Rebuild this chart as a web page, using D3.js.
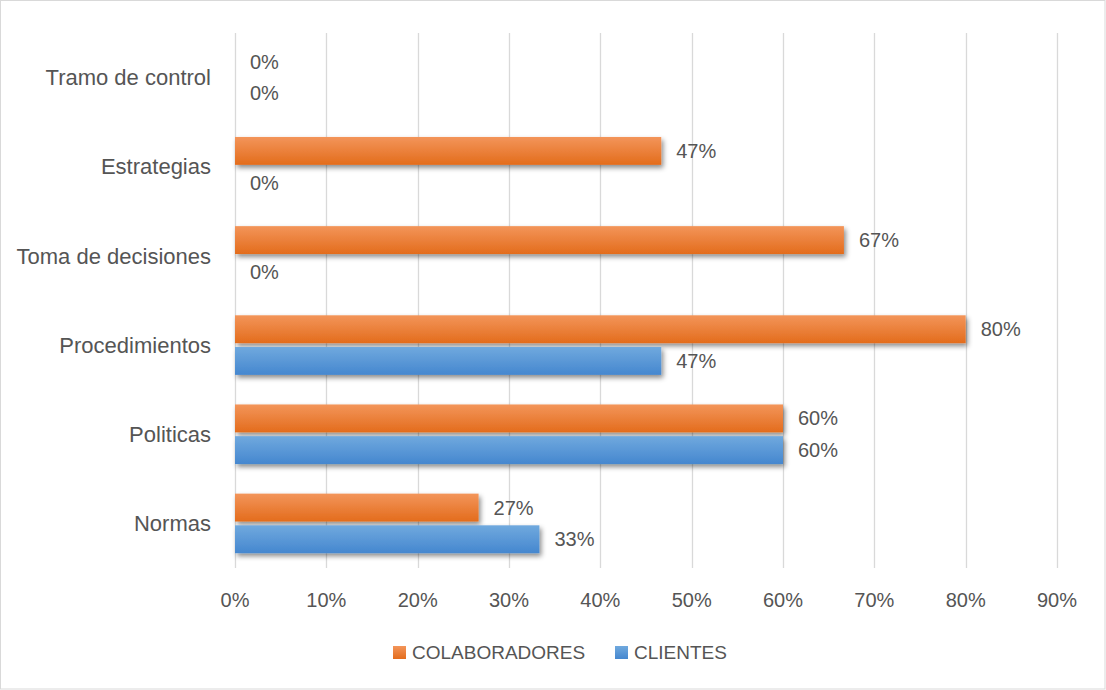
<!DOCTYPE html>
<html>
<head>
<meta charset="utf-8">
<script src="https://cdn.jsdelivr.net/npm/d3@7"></script>
<style>
  body { margin: 0; background: #fff; }
  text { font-family: "Liberation Sans", Arial, sans-serif; fill: #555; }
</style>
</head>
<body>
<div id="chart"></div>
<script>
// data, categories top to bottom
const categories = ['Tramo de control', 'Estrategias', 'Toma de decisiones', 'Procedimientos', 'Politicas', 'Normas'];
const series = ['COLABORADORES', 'CLIENTES'];
const colaboradores = [0, 0.4667, 0.6667, 0.80, 0.60, 0.2667];
const clientes = [0, 0, 0, 0.4667, 0.60, 0.3333];
const xTicks = [0, 0.1, 0.2, 0.3, 0.4, 0.5, 0.6, 0.7, 0.8, 0.9];

const width = 1106;
const height = 690;
const margin = { top: 33, right: 49, bottom: 122, left: 235 };

const svg = d3.select('#chart')
  .append('svg')
  .attr('width', width)
  .attr('height', height);

const defs = svg.append('defs');
const grads = [
  { id: 'g-orange', top: '#f3955a', bottom: '#e36c1c' },
  { id: 'g-blue', top: '#70a9de', bottom: '#4587cf' }
];
grads.forEach(g => {
  const lg = defs.append('linearGradient')
    .attr('id', g.id)
    .attr('x1', 0).attr('y1', 0).attr('x2', 0).attr('y2', 1);
  lg.append('stop').attr('offset', '0%').attr('stop-color', g.top);
  lg.append('stop').attr('offset', '100%').attr('stop-color', g.bottom);
});
defs.append('filter')
  .attr('id', 'shadow')
  .attr('x', '-5%').attr('y', '-30%').attr('width', '115%').attr('height', '180%')
  .append('feDropShadow')
  .attr('dx', 2).attr('dy', 3).attr('stdDeviation', 2.5)
  .attr('flood-color', '#000').attr('flood-opacity', 0.45);

const fills = { COLABORADORES: 'url(#g-orange)', CLIENTES: 'url(#g-blue)' };

// outer border
svg.append('rect')
  .attr('x', 0.5).attr('y', 0.5)
  .attr('width', width - 1.5).attr('height', height - 1.5)
  .attr('fill', 'none')
  .attr('stroke', '#d9d9d9');

const x = d3.scaleLinear()
  .domain([0, 0.9])
  .range([margin.left, width - margin.right]);

const y0 = d3.scaleBand()
  .domain(categories)
  .range([margin.top, height - margin.bottom])
  .padding(0);

const y1 = d3.scaleBand()
  .domain(series)
  .range([0, y0.bandwidth()])
  .paddingInner(0.12)
  .paddingOuter(0.467);

// gridlines
svg.append('g')
  .selectAll('line')
  .data(xTicks)
  .enter()
  .append('line')
  .attr('x1', d => Math.round(x(d)) + 0.5)
  .attr('x2', d => Math.round(x(d)) + 0.5)
  .attr('y1', margin.top)
  .attr('y2', height - margin.bottom)
  .attr('stroke', '#d9d9d9')
  .attr('stroke-width', 1.3);

// x tick labels
svg.append('g')
  .selectAll('text')
  .data(xTicks)
  .enter()
  .append('text')
  .attr('x', d => x(d))
  .attr('y', 600)
  .attr('dy', '0.35em')
  .attr('text-anchor', 'middle')
  .style('font-size', '20px')
  .text(d3.format('.0%'));

// category labels
svg.append('g')
  .selectAll('text')
  .data(categories)
  .enter()
  .append('text')
  .attr('x', 211)
  .attr('y', d => y0(d) + y0.bandwidth() / 2)
  .attr('dy', '0.35em')
  .attr('text-anchor', 'end')
  .style('font-size', '22px')
  .text(d => d);

const rows = [];
categories.forEach((c, i) => {
  rows.push({ cat: c, s: 'COLABORADORES', v: colaboradores[i] });
  rows.push({ cat: c, s: 'CLIENTES', v: clientes[i] });
});

// bars
svg.append('g')
  .selectAll('rect')
  .data(rows.filter(d => d.v > 0))
  .enter()
  .append('rect')
  .attr('x', x(0))
  .attr('y', d => y0(d.cat) + y1(d.s))
  .attr('width', d => x(d.v) - x(0))
  .attr('height', y1.bandwidth())
  .attr('fill', d => fills[d.s])
  .attr('filter', 'url(#shadow)');

// value labels
svg.append('g')
  .selectAll('text')
  .data(rows)
  .enter()
  .append('text')
  .attr('x', d => x(d.v) + 15)
  .attr('y', d => y0(d.cat) + y1(d.s) + y1.bandwidth() / 2)
  .attr('dy', '0.35em')
  .style('font-size', '20px')
  .text(d => d3.format('.0%')(d.v));

// legend
const legendX = [393, 615];
const legend = svg.append('g');
series.forEach((s, i) => {
  legend.append('rect')
    .attr('x', legendX[i])
    .attr('y', 646)
    .attr('width', 13)
    .attr('height', 13)
    .attr('fill', fills[s]);
  legend.append('text')
    .attr('x', legendX[i] + 19)
    .attr('y', 652.5)
    .attr('dy', '0.35em')
    .style('font-size', '19px')
    .text(s);
});
</script>
</body>
</html>
